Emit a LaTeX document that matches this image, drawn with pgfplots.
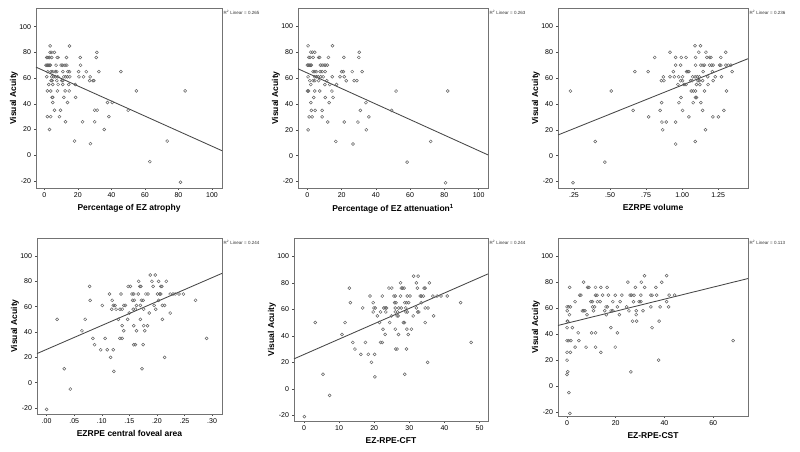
\documentclass[border=0pt]{standalone}
\usepackage{pgfplots}
\pgfplotsset{compat=1.18}
\usepackage{fontspec}
\setmainfont{Liberation Sans}
\pgfplotsset{
  spss/.style={
    scale only axis, anchor=south west,
    axis line style={draw=black!55, line width=0.6pt},
    tick align=outside, xtick pos=left, ytick pos=left,
    major tick length=2pt,
    tick style={draw=black!70, line width=0.5pt},
    ticklabel style={font=\fontsize{7}{8}\selectfont, text=black},
    label style={font=\bfseries\fontsize{8.5}{9}\selectfont},
    every axis y label/.style={at={([xshift=-22pt]axis description cs:0,0.5)}, rotate=90, anchor=center, font=\bfseries\fontsize{8.5}{9}\selectfont},
    ylabel={Visual Acuity},
    ytick={-20,0,20,40,60,80,100},
    yticklabels={-20,0,20,40,60,80,100},
    xticklabel style={yshift=1pt},
    yticklabel style={xshift=0.5pt},
    /pgf/number format/assume math mode=true,
    clip=false,
  },
  pts/.style={only marks, mark=o, mark size=1.5pt, mark options={draw=black!62, line width=0.5pt}},
  fit/.style={no marks, draw=black!72, line width=0.85pt},
}
\newcommand{\rsq}[1]{\node[anchor=north west, font=\fontsize{4.5}{5}\selectfont, text=black!80, inner sep=0pt] at (rel axis cs:1,1) [xshift=1.5pt, yshift=-2pt] {R\textsuperscript{2} Linear = #1};}
\begin{document}
\begin{tikzpicture}
\path[use as bounding box] (0pt,0pt) rectangle (800pt,-452pt);

% Panel 1
\begin{axis}[spss, at={(36pt,-188pt)}, width=186pt, height=180pt,
  xmin=-5, xmax=106, ymin=-25.5, ymax=114.5,
  xtick={0,20,40,60,80,100}, xticklabels={0,20,40,60,80,100},
  xlabel={Percentage of EZ atrophy}]
\addplot[pts] coordinates {
(3.4,85) (15,85)
(3.4,80) (4.4,80) (6,80) (31.3,80)
(1.4,76) (2.2,76) (3,76) (4.4,76) (7.6,76) (8.2,76) (13.2,76) (21.4,76) (31,76)
(1,70) (1.5,70) (2,70) (2.6,70) (3.2,70) (3.6,70) (7,70) (10,70) (11,70) (12.3,70) (13.4,70) (21.6,70)
(2,65) (4,65) (5,65) (6.6,65) (7.4,65) (11,65) (14,65) (15,65) (20.4,65) (25,65) (32.5,65) (45.7,65)
(1.4,61) (4.4,61) (5.6,61) (6.6,61) (8,61) (11.6,61) (12.7,61) (13.8,61) (15.2,61) (20.6,61) (23.4,61) (27.3,61)
(4,58) (4.6,58) (7.4,58) (10.4,58) (11,58) (27,58) (29,58) (29.5,58)
(2.6,55) (5,55) (8.2,55) (11,55) (14.6,55) (18.4,55)
(1.8,50) (3.8,50) (7.8,50) (12.4,50) (14.8,50) (54.9,50) (84,50)
(4.6,45) (5,45) (11.6,45) (18.6,45)
(5,41) (13.8,41) (37.7,41) (40.5,41)
(6,35) (9.6,35) (30,35) (31.5,35) (50,35)
(1.8,30) (3.8,30) (9,30) (38.5,30)
(12.6,26) (22.8,26) (30,26)
(3,20) (35.7,20)
(18,11) (73.3,11)
(27.5,9)
(62.9,-5)
(81.2,-21)
};
\addplot[fit] coordinates {(-5,68.5) (106,3.5)};
\rsq{0.265}
\end{axis}

% Panel 2
\begin{axis}[spss, at={(298pt,-188pt)}, width=190pt, height=180pt,
  xmin=-5.5, xmax=105.5, ymin=-25, ymax=114.2,
  xtick={0,20,40,60,80,100}, xticklabels={0,20,40,60,80,100},
  xlabel={Percentage of EZ attenuation\textsuperscript{1}}]
\addplot[pts] coordinates {
(0.4,85) (14.6,85)
(2,80) (2.9,80) (4.3,80) (30.3,80)
(0.8,76) (1.6,76) (3.3,76) (6.6,76) (7.2,76) (12.3,76) (21.3,76) (30,76)
(0,70) (0.6,70) (1.2,70) (1.8,70) (2.3,70) (7.6,70) (8.6,70) (9.8,70) (10.7,70) (11.7,70)
(3.3,65) (4.3,65) (5.3,65) (7.4,65) (8.6,65) (10.4,65) (20,65) (21,65) (26.2,65) (32,65)
(0.4,61) (4.3,61) (5.3,61) (6.3,61) (7.8,61) (9.2,61) (14.5,61) (19,61) (21.5,61)
(1.4,58) (3.3,58) (4.3,58) (6.6,58) (11.3,58) (22.7,58) (27.3,58) (28.9,58)
(2,55) (10.2,55) (13.1,55) (17,55)
(0,50) (0.6,50) (4.3,50) (7.2,50) (14.3,50) (51.8,50) (82,50)
(3.7,45) (10.4,45) (15,45)
(2,41) (12.7,41) (34.2,41)
(2.3,35) (4.5,35) (8.6,35) (30.9,35) (49.2,35)
(1,30) (2.7,30) (8.6,30) (35.9,30)
(11.9,26) (21.5,26) (29.5,26)
(0.4,20) (34.4,20)
(16.6,11) (72,11)
(26.6,9)
(58.2,-5)
(80.7,-21)
};
\addplot[fit] coordinates {(-5.5,67.2) (105.5,0.6)};
\rsq{0.263}
\end{axis}

% Panel 3
\begin{axis}[spss, at={(558pt,-188pt)}, width=190pt, height=180pt,
  xmin=0.139, xmax=1.457, ymin=-25, ymax=114.2,
  xtick={0.25,0.5,0.75,1,1.25}, xticklabels={.25,.50,.75,1.00,1.25},
  xlabel={EZRPE volume}]
\addplot[pts] coordinates {
(1.089,85) (1.128,85)
(0.916,80) (1.116,80) (1.165,80) (1.303,80)
(0.81,76) (0.955,76) (0.994,76) (1.027,76) (1.093,76) (1.172,76) (1.19,76) (1.2,76) (1.268,76)
(0.955,70) (0.99,70) (1.093,70) (1.13,70) (1.145,70) (1.155,70) (1.19,70) (1.205,70) (1.215,70) (1.26,70) (1.268,70) (1.303,70) (1.32,70) (1.338,70)
(0.672,65) (0.764,65) (0.939,65) (1.031,65) (1.04,65) (1.047,65) (1.146,65) (1.21,65) (1.347,65)
(0.87,61) (0.916,61) (0.946,61) (0.976,61) (1.003,61) (1.073,61) (1.09,61) (1.105,61) (1.12,61) (1.178,61) (1.23,61) (1.273,61)
(0.856,58) (0.874,58) (0.99,58) (1.003,58) (1.059,58) (1.07,58) (1.11,58) (1.12,58) (1.142,58) (1.215,58)
(0.971,55) (1.013,55) (1.027,55) (1.1,55) (1.123,55) (1.18,55)
(0.225,50) (0.508,50) (1.063,50) (1.077,50) (1.093,50) (1.155,50) (1.308,50)
(0.992,45) (1.093,45) (1.1,45)
(0.858,41) (0.978,41) (1.077,41) (1.13,41)
(0.66,35) (0.847,35) (1.003,35) (1.142,35) (1.29,35)
(0.768,30) (1.047,30) (1.213,30) (1.252,30)
(0.86,26) (0.89,26) (0.955,26)
(0.865,20) (1.162,20)
(0.397,11) (1.091,11)
(0.955,9)
(0.464,-5)
(0.243,-21)
};
\addplot[fit] coordinates {(0.139,16) (1.457,75)};
\rsq{0.236}
\end{axis}

% Panel 4
\begin{axis}[spss, at={(37pt,-414pt)}, width=185pt, height=176pt,
  xmin=-0.0174, xmax=0.318, ymin=-24.7, ymax=114.2,
  xtick={0,0.05,0.1,0.15,0.2,0.25,0.3}, xticklabels={.00,.05,.10,.15,.20,.25,.30},
  xlabel={EZRPE central foveal area}]
\addplot[pts] coordinates {
(0.000,-21) (0.019,50) (0.032,11) (0.043,-5) (0.064,41) (0.070,50) (0.078,76) (0.079,65)
(0.084,35) (0.087,30) (0.098,26) (0.101,61) (0.106,35) (0.110,26) (0.114,70) (0.116,20)
(0.119,65) (0.121,61) (0.121,26) (0.122,9) (0.118,58) (0.124,61) (0.126,58) (0.130,50)
(0.133,58) (0.137,58) (0.135,70) (0.137,45) (0.133,35) (0.137,35) (0.140,61) (0.143,61)
(0.140,41) (0.147,50) (0.148,76) (0.152,76) (0.150,55) (0.155,70) (0.158,70) (0.156,65)
(0.159,65) (0.157,58) (0.161,58) (0.158,45) (0.158,30) (0.161,30) (0.163,41) (0.163,61)
(0.166,70) (0.167,80) (0.169,76) (0.171,76) (0.170,61) (0.170,50) (0.172,65) (0.175,65)
(0.173,11) (0.176,58) (0.175,30) (0.176,45) (0.178,41) (0.180,70) (0.184,70) (0.183,45)
(0.186,55) (0.188,85) (0.191,80) (0.197,85) (0.198,58) (0.193,76) (0.203,80) (0.203,65)
(0.201,70) (0.205,70) (0.207,70) (0.207,76) (0.209,76) (0.210,61) (0.214,61) (0.210,50)
(0.214,20) (0.217,80) (0.224,55) (0.224,70) (0.229,70) (0.233,70) (0.240,70) (0.248,70)
(0.270,65) (0.290,35) (0.195,61)
};
\addplot[fit] coordinates {(-0.0174,23) (0.318,86.3)};
\rsq{0.244}
\end{axis}

% Panel 5
\begin{axis}[spss, at={(294pt,-421pt)}, width=194pt, height=183pt,
  xmin=-2.85, xmax=52.4, ymin=-24.3, ymax=113.8,
  xtick={0,10,20,30,40,50}, xticklabels={0,10,20,30,40,50},
  xlabel={EZ-RPE-CFT}]
\addplot[pts] coordinates {
(31.2,85) (32.5,85)
(27.5,80) (32,80) (35.7,80)
(12.9,76) (24.2,76) (25,76) (27.7,76) (28.1,76) (28.5,76) (32.3,76) (34.2,76) (34.5,76)
(18.8,70) (22.3,70) (25.6,70) (26,70) (27.5,70) (29.4,70) (30.2,70) (33.1,70) (33.5,70) (34,70) (36.7,70) (37.9,70) (39,70) (40.8,70)
(13.2,65) (19.7,65) (25.8,65) (26.2,65) (28.7,65) (29.2,65) (29.8,65) (33.4,65) (44.6,65)
(16.7,61) (19.9,61) (20.3,61) (22.7,61) (23.1,61) (23.5,61) (26,61) (27,61) (27.7,61) (29,61) (32,61) (34.5,61) (35.3,61)
(19.7,58) (21.8,58) (23.3,58) (26,58) (26.6,58) (29,58) (29.4,58) (32.4,58) (32.7,58)
(20.9,55) (24.9,55) (26.5,55) (26.8,55) (31.1,55) (36.9,55)
(3.2,50) (11.7,50) (21.5,50) (24.4,50) (28.3,50) (28.6,50) (34.5,50)
(22.5,45) (26,45) (29.3,45) (30.6,45)
(10.8,41) (23.1,41) (26.9,41) (29.7,41)
(13.9,35) (17.5,35) (21.8,35) (22.3,35) (47.6,35)
(14.5,30) (26.1,30) (26.5,30) (29.2,30)
(16.2,26) (18.3,26) (20.1,26)
(19.2,20) (35.2,20)
(5.4,11) (28.7,11)
(20.2,9)
(7.3,-5)
(0.1,-21)
};
\addplot[fit] coordinates {(-2.85,22.6) (52.4,86.7)};
\rsq{0.244}
\end{axis}

% Panel 6
\begin{axis}[spss, at={(558pt,-416pt)}, width=190pt, height=178pt,
  xmin=-3.7, xmax=74.3, ymin=-23, ymax=114,
  xtick={0,20,40,60}, xticklabels={0,20,40,60},
  xlabel={EZ-RPE-CST}]
\addplot[pts] coordinates {
(31.8,85) (40.9,85)
(6.8,80) (25,80) (30.5,80) (38.9,80)
(1.1,76) (8.5,76) (9,76) (11.7,76) (13.9,76) (16.5,76) (28.1,76) (31.9,76) (36.5,76)
(5.2,70) (5.7,70) (11.7,70) (12.3,70) (14.6,70) (17,70) (19.8,70) (22.5,70) (25.9,70) (26.5,70) (27.5,70) (30.3,70) (34.4,70) (34.9,70) (36.8,70) (41.9,70) (44.2,70)
(3.3,65) (9.8,65) (10.4,65) (12.5,65) (13.6,65) (18.8,65) (21.8,65) (27.3,65) (29.6,65) (30.3,65) (40.9,65)
(0,61) (0.7,61) (1.4,61) (10.5,61) (11.3,61) (16,61) (16.6,61) (20.7,61) (24.5,61) (34.4,61) (38.2,61) (41.7,61)
(0.1,58) (6.3,58) (6.9,58) (7.4,58) (10.9,58) (15.5,58) (18.1,58) (18.8,58) (25.4,58) (28.4,58) (31.2,58)
(1,55) (8.2,55) (16.1,55) (21.5,55) (28.4,55)
(0.1,50) (0.3,50) (26.9,50) (28.6,50) (37.8,50)
(0,45) (2.2,45) (18,45) (34.9,45)
(4.6,41) (10.1,41) (11.7,41) (20.7,41)
(0,35) (0.7,35) (1.6,35) (4.9,35) (68.2,35)
(3.3,30) (7.8,30) (11.7,30) (19.8,30)
(0,26) (1.4,26) (13.9,26)
(0,20) (37.6,20)
(0.3,11) (26.2,11)
(0,9)
(0.8,-5)
(1.2,-21)
};
\addplot[fit] coordinates {(-3.7,46.7) (74.3,82.8)};
\rsq{0.113}
\end{axis}
\end{tikzpicture}
\end{document}
